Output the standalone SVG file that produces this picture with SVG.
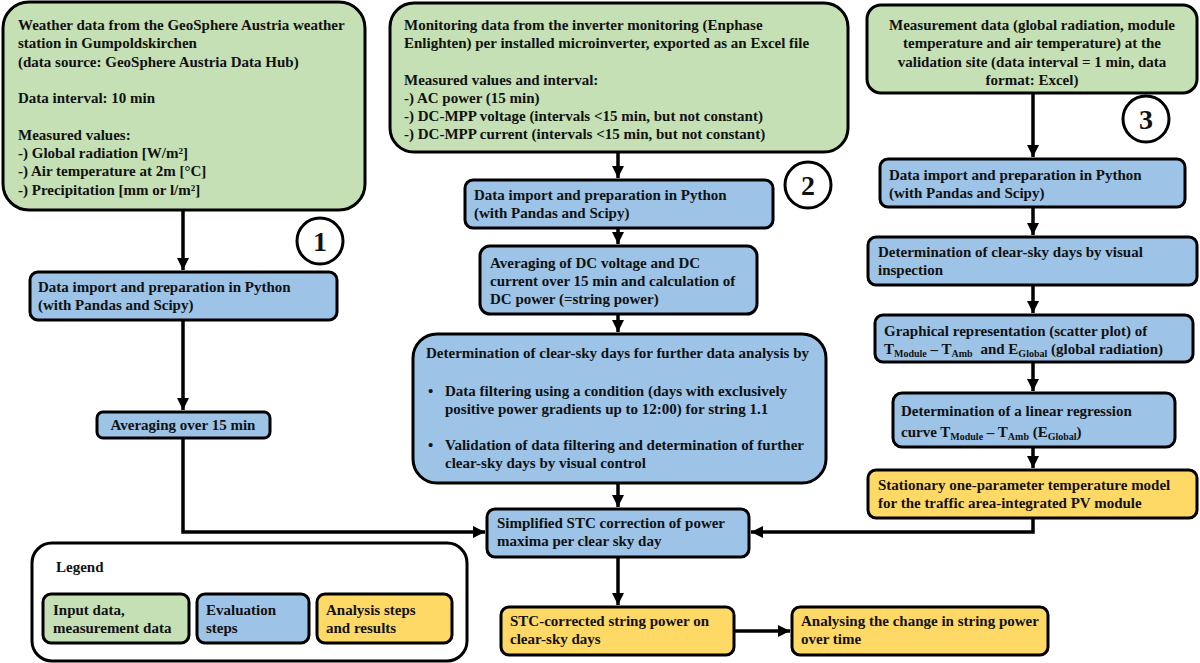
<svg xmlns="http://www.w3.org/2000/svg" width="1200" height="663" viewBox="0 0 1200 663">
<defs>
<style>
text{font-family:"Liberation Serif","Times New Roman",serif;font-weight:bold;font-size:15px;fill:#111;}
.g{fill:#C5E0B4;stroke:#000;stroke-width:3;}
.b{fill:#9DC3E6;stroke:#000;stroke-width:3;}
.y{fill:#FFD966;stroke:#000;stroke-width:3;}
.w{fill:#fff;stroke:#000;stroke-width:3;}
.c{text-anchor:middle;}
.num{font-size:28px;text-anchor:middle;}
.sub{font-size:10px;}
.con{fill:none;stroke:#000;stroke-width:3.5;}
</style>
<marker id="ah" markerUnits="userSpaceOnUse" markerWidth="14" markerHeight="14" refX="12" refY="7" orient="auto">
<path d="M0,1 L12,7 L0,13 z" fill="#000"/>
</marker>
</defs>
<rect width="1200" height="663" fill="#fff"/>

<g id="connectors">
<path class="con" d="M183,210 L183,270" marker-end="url(#ah)"/>
<path class="con" d="M183,320 L183,410" marker-end="url(#ah)"/>
<path class="con" d="M183,438 L183,532 L485,532" marker-end="url(#ah)"/>
<path class="con" d="M618,152 L618,178" marker-end="url(#ah)"/>
<path class="con" d="M618,228 L618,244" marker-end="url(#ah)"/>
<path class="con" d="M618,314 L618,332" marker-end="url(#ah)"/>
<path class="con" d="M618,483 L618,507" marker-end="url(#ah)"/>
<path class="con" d="M1033,93 L1033,157" marker-end="url(#ah)"/>
<path class="con" d="M1033,207 L1033,235" marker-end="url(#ah)"/>
<path class="con" d="M1033,285 L1033,313" marker-end="url(#ah)"/>
<path class="con" d="M1033,362 L1033,391" marker-end="url(#ah)"/>
<path class="con" d="M1033,447 L1033,468" marker-end="url(#ah)"/>
<path class="con" d="M1033,518 L1033,532 L751,532" marker-end="url(#ah)"/>
<path class="con" d="M618,557 L618,605" marker-end="url(#ah)"/>
<path class="con" d="M734,631 L790,631" marker-end="url(#ah)"/>
</g>

<g id="n-weather">
<rect class="g" x="3" y="2" width="362" height="208" rx="26"/>
<text x="18" y="30">Weather data from the GeoSphere Austria weather</text>
<text x="18" y="48.3">station in Gumpoldskirchen</text>
<text x="18" y="66.6">(data source: GeoSphere Austria Data Hub)</text>
<text x="18" y="103.2">Data interval: 10 min</text>
<text x="18" y="139.8">Measured values:</text>
<text x="18" y="158.1">-) Global radiation [W/m²]</text>
<text x="18" y="176.4">-) Air temperature at 2m [°C]</text>
<text x="18" y="194.7">-) Precipitation [mm or l/m²]</text>
</g>

<g id="n-monitoring">
<rect class="g" x="390" y="3" width="458" height="149" rx="24"/>
<text x="404" y="30">Monitoring data from the inverter monitoring (Enphase</text>
<text x="404" y="48.2">Enlighten) per installed microinverter, exported as an Excel file</text>
<text x="404" y="84.6">Measured values and interval:</text>
<text x="404" y="102.8">-) AC power (15 min)</text>
<text x="404" y="121">-) DC-MPP voltage (intervals &lt;15 min, but not constant)</text>
<text x="404" y="139.2">-) DC-MPP current (intervals &lt;15 min, but not constant)</text>
</g>

<g id="n-measurement">
<rect class="g" x="867" y="5" width="330" height="88" rx="14"/>
<text class="c" x="1032" y="30">Measurement data (global radiation, module</text>
<text class="c" x="1032" y="48.3">temperature and air temperature) at the</text>
<text class="c" x="1032" y="66.6">validation site (data interval = 1 min, data</text>
<text class="c" x="1032" y="84.9">format: Excel)</text>
</g>

<g id="c1"><circle class="w" cx="320" cy="241" r="23"/><text class="num" x="320" y="251">1</text></g>
<g id="c2"><circle class="w" cx="808" cy="185" r="23"/><text class="num" x="808" y="195">2</text></g>
<g id="c3"><circle class="w" cx="1146" cy="119" r="23"/><text class="num" x="1146" y="129">3</text></g>

<g id="n-import1">
<rect class="b" x="30" y="272" width="307" height="48" rx="8"/>
<text x="38" y="292">Data import and preparation in Python</text>
<text x="38" y="310.3">(with Pandas and Scipy)</text>
</g>

<g id="n-avg1">
<rect class="b" x="97" y="412" width="173" height="26" rx="6"/>
<text class="c" x="183" y="430">Averaging over 15 min</text>
</g>

<g id="n-import2">
<rect class="b" x="465" y="180" width="308" height="48" rx="8"/>
<text x="474" y="200">Data import and preparation in Python</text>
<text x="474" y="218.3">(with Pandas and Scipy)</text>
</g>

<g id="n-avgdc">
<rect class="b" x="480" y="246" width="277" height="68" rx="10"/>
<text x="490" y="267.5">Averaging of DC voltage and DC</text>
<text x="490" y="285.8">current over 15 min and calculation of</text>
<text x="490" y="304.1">DC power (=string power)</text>
</g>

<g id="n-clearsky2">
<rect class="b" x="413" y="334" width="413" height="149" rx="24"/>
<text x="426" y="358">Determination of clear-sky days for further data analysis by</text>
<text x="428" y="396">•</text>
<text x="445" y="396">Data filtering using a condition (days with exclusively</text>
<text x="445" y="414.3">positive power gradients up to 12:00) for string 1.1</text>
<text x="428" y="450">•</text>
<text x="445" y="450">Validation of data filtering and determination of further</text>
<text x="445" y="468.3">clear-sky days by visual control</text>
</g>

<g id="n-import3">
<rect class="b" x="880" y="159" width="305" height="48" rx="8"/>
<text x="889" y="179.5">Data import and preparation in Python</text>
<text x="889" y="197.8">(with Pandas and Scipy)</text>
</g>

<g id="n-clearsky3">
<rect class="b" x="868" y="237" width="329" height="48" rx="8"/>
<text x="878" y="257">Determination of clear-sky days by visual</text>
<text x="878" y="275.3">inspection</text>
</g>

<g id="n-scatter">
<rect class="b" x="875" y="315" width="318" height="47" rx="8"/>
<text x="884" y="335.5">Graphical representation (scatter plot) of</text>
<text x="884" y="354">T<tspan class="sub" dy="3">Module</tspan><tspan dy="-3"> – T</tspan><tspan class="sub" dy="3">Amb</tspan><tspan dy="-3" dx="4"> and E</tspan><tspan class="sub" dy="3">Global</tspan><tspan dy="-3"> (global radiation)</tspan></text>
</g>

<g id="n-regression">
<rect class="b" x="893" y="393" width="282" height="54" rx="9"/>
<text x="901" y="416">Determination of a linear regression</text>
<text x="901" y="437">curve T<tspan class="sub" dy="3">Module</tspan><tspan dy="-3"> – T</tspan><tspan class="sub" dy="3">Amb</tspan><tspan dy="-3"> (E</tspan><tspan class="sub" dy="3">Global</tspan><tspan dy="-3">)</tspan></text>
</g>

<g id="n-model">
<rect class="y" x="868" y="470" width="329" height="48" rx="8"/>
<text x="878" y="490">Stationary one-parameter temperature model</text>
<text x="878" y="508.3">for the traffic area-integrated PV module</text>
</g>

<g id="n-stc">
<rect class="b" x="487" y="509" width="262" height="48" rx="8"/>
<text x="497" y="528">Simplified STC correction of power</text>
<text x="497" y="546.3">maxima per clear sky day</text>
</g>

<g id="n-stcpower">
<rect class="y" x="501" y="607" width="233" height="48" rx="8"/>
<text x="510" y="626">STC-corrected string power on</text>
<text x="510" y="644.3">clear-sky days</text>
</g>

<g id="n-analysis">
<rect class="y" x="792" y="607" width="256" height="48" rx="8"/>
<text x="801" y="626">Analysing the change in string power</text>
<text x="801" y="644.3">over time</text>
</g>

<g id="legend">
<rect class="w" x="32" y="543" width="435" height="118" rx="20"/>
<text x="56" y="572">Legend</text>
<rect class="g" x="43" y="594" width="146" height="49" rx="8"/>
<text x="53" y="615">Input data,</text>
<text x="53" y="633.3">measurement data</text>
<rect class="b" x="197" y="594" width="112" height="49" rx="8"/>
<text x="206" y="615">Evaluation</text>
<text x="206" y="633.3">steps</text>
<rect class="y" x="317" y="594" width="135" height="49" rx="8"/>
<text x="326" y="615">Analysis steps</text>
<text x="326" y="633.3">and results</text>
</g>
</svg>
